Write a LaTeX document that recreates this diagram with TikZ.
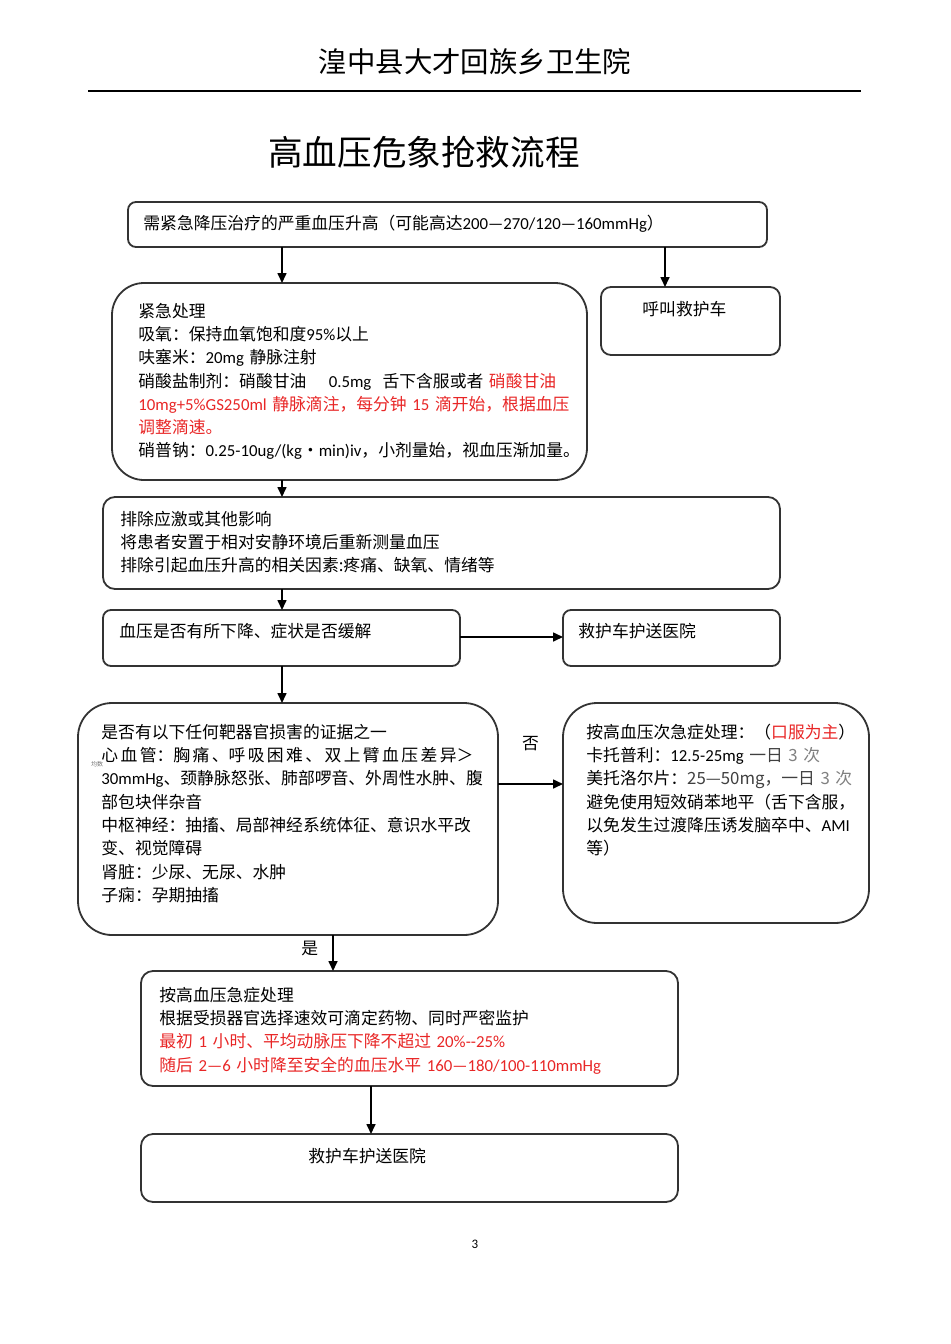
\documentclass[tikz,border=0pt]{standalone}
\usepackage{fontspec}
\setmainfont{Noto Sans CJK SC}
\newfontfamily\latfont{Carlito}
\usetikzlibrary{arrows.meta}
\definecolor{alertred}{RGB}{232,38,38}
\newcommand\latn[1]{{\latfont #1}}
\newcommand\bodysize{\fontsize{8.4pt}{11.65pt}\selectfont}
\newcommand\headsize{\fontsize{14.2pt}{16pt}\selectfont}
\newcommand\titlesize{\fontsize{17.3pt}{20pt}\selectfont}

\begin{document}
\begin{tikzpicture}[x=0.5pt,y=-0.5pt,font=\bodysize,>={Triangle[length=5pt,width=4.5pt]},
  box/.style={draw=black!80,line width=0.9pt,inner sep=0pt,outer sep=0pt},
  txt/.style={anchor=north west,inner sep=0pt,align=left},
  arr/.style={->,line width=0.8pt}]
  \useasboundingbox (0,0) rectangle (950,1344);
  \node[font=\headsize] (hosp) at (475,62) {湟中县大才回族乡卫生院};
  \draw[line width=1pt] (88,91) -- (861,91);
  \node[font=\titlesize] (title) at (424,152) {高血压危象抢救流程};

  \node[box,rounded corners=4pt,minimum width=319.5pt,minimum height=22.5pt] (onset) at (447.5,224.5) {};
  \node[txt] (onsetT) at (143,214.6) {需紧急降压治疗的严重血压升高（可能高达\latn{200—270/120—160mmHg}）};

  \node[box,rounded corners=16pt,minimum width=237.5pt,minimum height=98.5pt] (urgent) at (349.5,381.5) {};
  \node[txt,text width=250pt] (urgentT) at (138,302.6) {紧急处理\\
    吸氧：保持血氧饱和度\latn{95\%}以上\\
    呋塞米：\latn{20mg} 静脉注射\\
    硝酸盐制剂：硝酸甘油\quad\ \latn{0.5mg}\ \ 舌下含服或者\ \textcolor{alertred}{硝酸甘油}\\
    \textcolor{alertred}{\latn{10mg+5\%GS250ml} 静脉滴注，每分钟 \latn{15} 滴开始，根据血压}\\
    \textcolor{alertred}{调整滴速。}\\
    硝普钠：\latn{0.25-10ug/(kg}・\latn{min)iv}，小剂量始，视血压渐加量。};

  \node[box,rounded corners=5pt,minimum width=89.5pt,minimum height=34pt] (call) at (690.5,321) {};
  \node[txt] (callT) at (642,300.6) {呼叫救护车};

  \node[box,rounded corners=6pt,minimum width=338.5pt,minimum height=46pt] (calm) at (441.5,543) {};
  \node[txt,text width=320pt] (calmT) at (120,510.6) {排除应激或其他影响\\
    将患者安置于相对安静环境后重新测量血压\\
    排除引起血压升高的相关因素:疼痛、缺氧、情绪等};

  \node[box,rounded corners=4pt,minimum width=178.5pt,minimum height=28pt] (check) at (281.5,638) {};
  \node[txt] (checkT) at (119,622.6) {血压是否有所下降、症状是否缓解};
  \node[box,rounded corners=4pt,minimum width=108.5pt,minimum height=28pt] (ambA) at (671.5,638) {};
  \node[txt] (ambAT) at (578,622.6) {救护车护送医院};

  \node[box,rounded corners=17pt,minimum width=210pt,minimum height=116pt] (organ) at (288,819) {};
  \node[txt,text width=200pt] (organT) at (101,723.6) {是否有以下任何靶器官损害的证据之一\\
    \makebox[186pt][s]{\spaceskip=0pt plus 1fil 心 血 管：胸 痛 、呼 吸 困 难 、 双 上 臂 血 压 差 异＞}\\
    \latn{30mmHg}、颈静脉怒张、肺部啰音、外周性水肿、腹\\
    部包块伴杂音\\
    中枢神经：抽搐、局部神经系统体征、意识水平改\\
    变、视觉障碍\\
    肾脏：少尿、无尿、水肿\\
    子痫：孕期抽搐};
  \node[font=\fontsize{3pt}{3pt}\selectfont,text=black!55,inner sep=0pt] (avg) at (97,764) {均数};

  \node[box,rounded corners=17pt,minimum width=153pt,minimum height=110pt] (oral) at (716,813) {};
  \node[txt,text width=150pt] (oralT) at (586,723.6) {按高血压次急症处理：（\textcolor{alertred}{口服为主}）\\
    卡托普利：\latn{12.5-25mg} {\color{black!75}一日} {\color{black!50}3 次}\\
    美托洛尔片：{\color{black!75}25—50mg，一日} {\color{black!50}3 次}\\
    避免使用短效硝苯地平（舌下含服，\\
    以免发生过渡降压诱发脑卒中、\latn{AMI}\\
    等）};

  \node[box,rounded corners=6pt,minimum width=268.5pt,minimum height=57.5pt] (acute) at (409.5,1028.5) {};
  \node[txt,text width=260pt] (acuteT) at (159,986.6) {按高血压急症处理\\
    根据受损器官选择速效可滴定药物、同时严密监护\\
    \textcolor{alertred}{最初 \latn{1} 小时、平均动脉压下降不超过 \latn{20\%-{}-25\%}}\\
    \textcolor{alertred}{随后 \latn{2—6} 小时降至安全的血压水平 \latn{160—180/100-110mmHg}}};

  \node[box,rounded corners=6pt,minimum width=268.5pt,minimum height=34pt] (ambB) at (409.5,1168) {};
  \node[txt] (ambBT) at (308,1147.6) {救护车护送医院};

  \node[font=\latfont\fontsize{6.5pt}{7pt}\selectfont] (page) at (475,1244) {3};

  \coordinate (colA) at (282,0);
  \coordinate (colB) at (665,0);
  \coordinate (colC) at (333,0);
  \coordinate (colD) at (371,0);
  \coordinate (rowA) at (0,637);
  \coordinate (rowB) at (0,784);

  \draw[arr] (onset.south -| colA) -- (urgent.north -| colA);
  \draw[arr] (onset.south -| colB) -- (call.north -| colB);
  \draw[arr] (urgent.south -| colA) -- (calm.north -| colA);
  \draw[arr] (calm.south -| colA) -- (check.north -| colA);
  \draw[arr] (check.east |- rowA) -- (ambA.west |- rowA);
  \draw[arr] (check.south -| colA) -- (organ.north -| colA);
  \draw[arr] (organ.east |- rowB) -- node[above=16pt,inner sep=0pt] (no) {否} (oral.west |- rowB);
  \draw[arr] (organ.south -| colC) -- node[left=7pt,pos=0.36,inner sep=0pt] (yes) {是} (acute.north -| colC);
  \draw[arr] (acute.south -| colD) -- (ambB.north -| colD);
\end{tikzpicture}
\end{document}
